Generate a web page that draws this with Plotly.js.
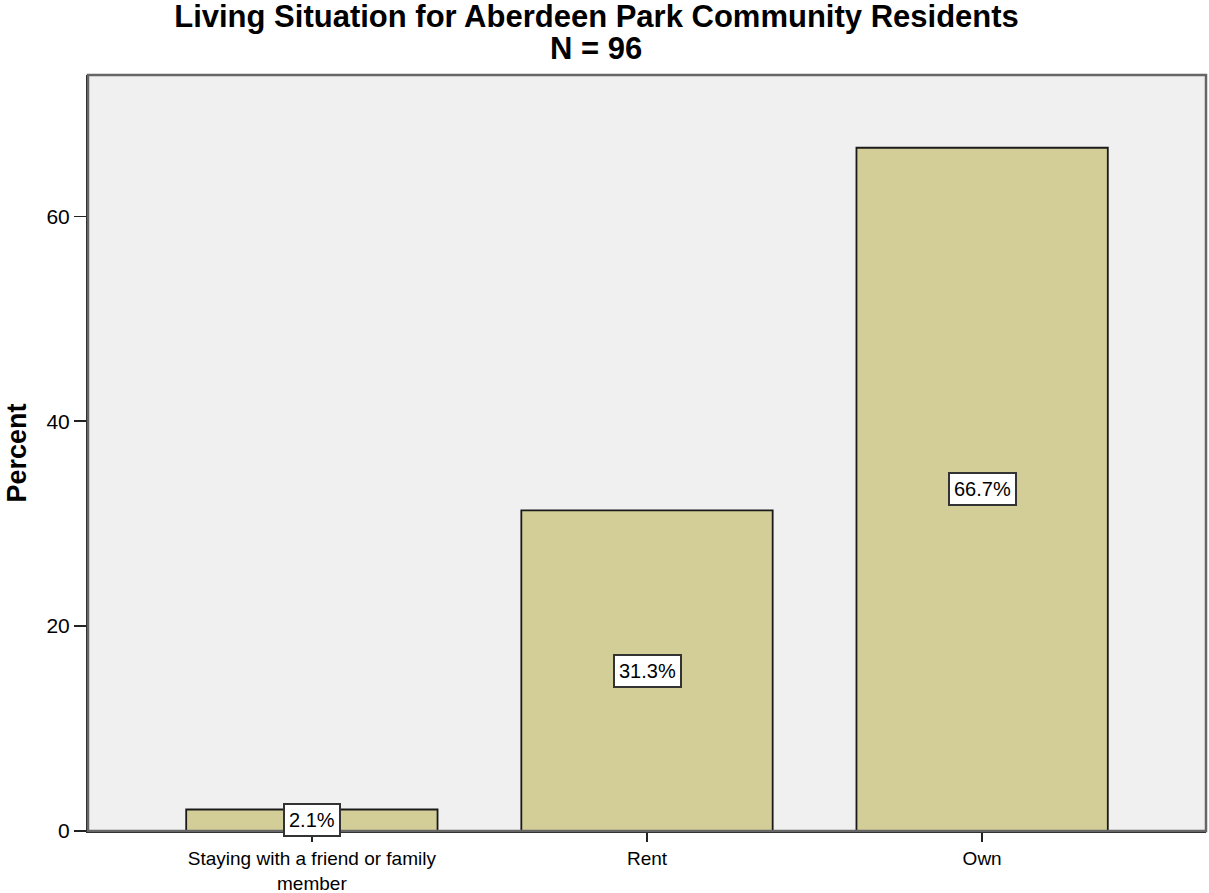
<!DOCTYPE html>
<html>
<head>
<meta charset="utf-8">
<script src="https://cdn.plot.ly/plotly-3.0.1.min.js"></script>
<style>html,body{margin:0;padding:0;background:#fff;}#chart{width:1209px;height:893px;}</style>
</head>
<body>
<div id="chart"></div>
<script>
const categories = ["Staying with a friend or family<br>member", "Rent", "Own"];
const percents = [2.1, 31.3, 66.7];
const yTicks = [0, 20, 40, 60];
const titleLine1 = "Living Situation for Aberdeen Park Community Residents";
const titleLine2 = "N = 96";
const yTitle = "Percent";

const FONT = "Liberation Sans, Arial, sans-serif";

const trace = {
  type: "bar",
  x: categories,
  y: percents,
  width: 0.75,
  marker: {color: "#d3ce98", line: {color: "#1a1a1a", width: 1.8}},
  hoverinfo: "none"
};

const valueLabels = categories.map((c, i) => ({
  x: c, y: percents[i] / 2, xref: "x", yref: "y",
  text: percents[i].toFixed(1) + "%",
  showarrow: false,
  bgcolor: "#ffffff",
  bordercolor: "#333333",
  borderwidth: 2,
  borderpad: 4,
  font: {family: FONT, size: 20, color: "#000"}
}));

const subtitle = {
  x: 0.454, y: 1.0357, xref: "paper", yref: "paper",
  xanchor: "center", yanchor: "middle",
  text: "<b>" + titleLine2 + "</b>",
  showarrow: false,
  font: {family: FONT, size: 31, color: "#000"}
};

const layout = {
  width: 1209, height: 893,
  margin: {l: 88, r: 3, t: 75, b: 62},
  paper_bgcolor: "#ffffff",
  plot_bgcolor: "#f0f0f0",
  showlegend: false,
  title: {
    text: "<b>" + titleLine1 + "</b>",
    font: {family: FONT, size: 31, color: "#000"},
    xref: "container", yref: "container",
    x: 0.4934, xanchor: "center", y: 0.982, yanchor: "middle"
  },
  xaxis: {
    type: "category",
    range: [-0.668, 2.668],
    showline: true, linecolor: "#222", linewidth: 2,
    ticks: "outside", ticklen: 9, tickcolor: "#222", tickwidth: 1.5,
    tickfont: {family: FONT, size: 19, color: "#000"},
    showgrid: false, zeroline: false
  },
  yaxis: {
    range: [0, 73.8],
    tickvals: yTicks,
    ticktext: yTicks.map(String),
    showline: true, linecolor: "#222", linewidth: 2,
    ticks: "outside", ticklen: 12, tickcolor: "#222", tickwidth: 1.5,
    tickfont: {family: FONT, size: 21, color: "#000"},
    showgrid: false, zeroline: false,
    title: {text: "<b>" + yTitle + "</b>", font: {family: FONT, size: 27, color: "#000"}, standoff: 12}
  },
  shapes: [{
    type: "rect", xref: "paper", yref: "paper", x0: 0, x1: 1, y0: 0, y1: 1,
    line: {color: "#666", width: 2.5}, fillcolor: "rgba(0,0,0,0)", layer: "above"
  }],
  annotations: valueLabels.concat([subtitle])
};

Plotly.newPlot("chart", [trace], layout, {displayModeBar: false, staticPlot: true});
</script>
</body>
</html>
